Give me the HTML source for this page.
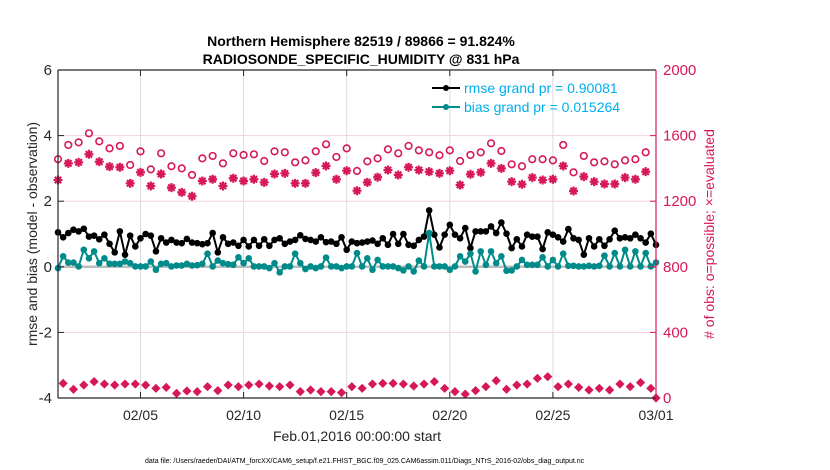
<!DOCTYPE html>
<html><head><meta charset="utf-8"><style>
html,body{margin:0;padding:0;background:#fff;}
svg{display:block;font-family:"Liberation Sans",sans-serif;}
</style></head><body>
<svg id="chart" width="830" height="470" viewBox="0 0 830 470" xmlns="http://www.w3.org/2000/svg">
<rect x="0" y="0" width="830" height="470" fill="#fff"/>
<text x="361" y="46" text-anchor="middle" font-size="14" font-weight="bold" fill="#000">Northern Hemisphere 82519 / 89866 = 91.824%</text>
<text x="361" y="64" text-anchor="middle" font-size="14" font-weight="bold" fill="#000">RADIOSONDE_SPECIFIC_HUMIDITY @ 831 hPa</text>
<g id="grid"></g>
<g id="marks"></g>
<g id="axes"></g>
<text transform="translate(37,234) rotate(-90)" text-anchor="middle" font-size="14" fill="#262626">rmse and bias (model - observation)</text>
<text transform="translate(714,234) rotate(-90)" text-anchor="middle" font-size="14" fill="#d6185a"># of obs: o=possible; ×=evaluated</text>
<text x="357" y="441" text-anchor="middle" font-size="14" fill="#262626">Feb.01,2016 00:00:00 start</text>
<text x="145" y="463" font-size="7" fill="#000">data file: /Users/raeder/DAI/ATM_forcXX/CAM6_setup/f.e21.FHIST_BGC.f09_025.CAM6assim.011/Diags_NTrS_2016-02/obs_diag_output.nc</text>
<g>
<line x1="432" y1="88" x2="460" y2="88" stroke="#000" stroke-width="2"/>
<circle cx="446" cy="88" r="3" fill="#000"/>
<text x="464" y="93" font-size="14" fill="#00aeef">rmse grand pr = 0.90081</text>
<line x1="432" y1="107" x2="460" y2="107" stroke="#008b8b" stroke-width="2"/>
<circle cx="446" cy="107" r="3" fill="#008b8b"/>
<text x="464" y="112" font-size="14" fill="#00aeef">bias grand pr = 0.015264</text>
</g>
</svg>
<script>
const xTickDays = [4, 9, 14, 19, 24, 29];
const xTickLabels = ["02/05", "02/10", "02/15", "02/20", "02/25", "03/01"];
const yTicks = [-4, -2, 0, 2, 4, 6];
const yRightTicks = [0, 400, 800, 1200, 1600, 2000];
const rmse = [1.05,0.90,1.03,1.13,1.08,1.16,0.92,0.95,0.84,0.98,0.70,0.44,1.08,0.37,0.95,0.62,0.87,1.00,0.95,0.47,0.87,0.74,0.82,0.74,0.72,0.85,0.74,0.72,0.69,0.72,1.03,0.44,0.90,0.70,0.74,0.64,0.82,0.62,0.82,0.64,
0.84,0.64,0.82,0.87,0.70,0.77,0.82,0.96,0.85,0.82,0.77,0.90,0.75,0.77,0.70,0.90,0.52,0.77,0.72,0.74,0.77,0.80,0.70,0.87,0.67,1.00,0.70,1.00,0.67,0.64,0.82,0.92,1.72,0.98,0.59,0.98,1.28,0.98,0.87,1.18,
0.57,1.08,1.08,1.08,1.23,1.03,1.35,1.01,0.57,0.84,0.62,0.98,0.92,0.92,0.54,1.05,0.98,0.90,0.77,1.15,0.87,0.82,0.37,0.87,0.62,0.84,0.64,0.84,1.10,0.87,0.90,0.87,0.98,0.87,0.74,1.01,0.67];
const bias = [-0.04,0.32,0.13,0.13,0.01,0.52,0.26,0.47,0.11,0.26,0.09,0.09,0.09,0.16,0.11,0.01,0.01,0.01,0.16,-0.09,0.09,0.11,0.01,0.04,0.04,0.09,0.04,0.05,0.09,0.40,0.01,0.19,0.11,0.08,0.06,0.29,0.11,0.26,0.01,0.01,
0.01,-0.04,0.11,-0.17,0.01,0.01,0.40,0.11,-0.07,0.01,-0.04,0.01,0.28,0.01,0.01,-0.04,0.01,0.01,0.42,0.01,0.26,-0.09,0.21,0.01,0.01,0.01,-0.04,-0.11,0.01,-0.14,0.19,0.01,1.03,0.01,0.01,0.01,-0.09,0.01,0.32,0.16,
0.40,-0.14,0.47,0.06,0.47,0.11,0.32,-0.12,-0.11,0.01,0.21,0.06,0.06,0.06,0.29,0.01,0.21,0.01,0.40,0.03,0.03,0.01,0.01,0.03,0.01,0.03,0.34,0.01,0.42,0.01,0.52,0.01,0.47,0.01,0.42,0.01,0.13];
const possible = [1456,1543,1559,1614,1565,1522,1537,1421,1504,1394,1492,1413,1400,1360,1461,1476,1431,1492,1482,1486,
1445,1504,1498,1437,1449,1504,1547,1470,1522,1384,1443,1461,1516,1492,1537,1510,1498,1480,1510,1445,
1482,1498,1553,1506,1425,1413,1456,1456,1449,1543,1376,1476,1437,1443,1425,1449,1456,1498];
const evaluated = [1329,1431,1437,1486,1441,1411,1407,1309,1376,1293,1366,1283,1254,1230,1323,1334,1293,1340,1323,1334,
1315,1366,1370,1309,1309,1374,1415,1334,1386,1264,1315,1346,1390,1360,1407,1390,1380,1370,1386,1299,
1364,1376,1431,1400,1319,1303,1344,1329,1334,1415,1262,1350,1319,1305,1305,1344,1334,1380];
const evaluatedLow = [89,53,79,100,85,79,85,85,79,59,65,28,43,39,69,45,79,69,79,85,73,69,79,39,49,39,39,33,69,59,
85,89,89,85,73,85,100,59,39,24,45,69,106,53,79,85,120,130,69,85,65,49,59,49,85,69,94,59,0];

const NS = "http://www.w3.org/2000/svg";
const L = 58, R = 656, T = 70, B = 398;
const DAYS = 29;
const xs = d => L + d / DAYS * (R - L);
const yl = v => B - (v + 4) / 10 * (B - T);
const yr = v => B - v / 2000 * (B - T);
function mk(tag, attrs, parent) {
  const e = document.createElementNS(NS, tag);
  for (const k in attrs) e.setAttribute(k, attrs[k]);
  parent.appendChild(e);
  return e;
}
const grid = document.getElementById('grid');
const marks = document.getElementById('marks');
const axes = document.getElementById('axes');

xTickDays.forEach((d, i) => {
  const g = mk('line', {x1: xs(d), x2: xs(d), y1: T, y2: B, stroke: '#dcdcdc', 'stroke-width': 1}, grid);
  
  
  const tb = mk('line', {x1: xs(d), x2: xs(d), y1: B, y2: B - 6, stroke: '#262626', 'stroke-width': 1}, axes);
  
  
  const tt = mk('line', {x1: xs(d), x2: xs(d), y1: T, y2: T + 6, stroke: '#262626', 'stroke-width': 1}, axes);
  
  
  const t = mk('text', {x: xs(d), y: B + 22, 'text-anchor': 'middle', 'font-size': 14, fill: '#262626'}, axes);
  t.textContent = xTickLabels[i];
  
  
});
yRightTicks.forEach(v => {
  if (v > 0 && v < 2000 && v !== 800) {
    const g = mk('line', {x1: L, x2: R, y1: yr(v), y2: yr(v), stroke: '#f2d3dd', 'stroke-width': 1}, grid);
    
    
  }
  const tk = mk('line', {x1: R, x2: R - 6, y1: yr(v), y2: yr(v), stroke: '#d6185a', 'stroke-width': 1}, axes);
  
  
  const t = mk('text', {x: R + 7, y: yr(v) + 5, 'font-size': 15, fill: '#d6185a'}, axes);
  t.textContent = v;
  
  
});
yTicks.forEach(v => {
  const tk = mk('line', {x1: L, x2: L + 6, y1: yl(v), y2: yl(v), stroke: '#262626', 'stroke-width': 1}, axes);
  
  
  const t = mk('text', {x: L - 6, y: yl(v) + 5, 'text-anchor': 'end', 'font-size': 15, fill: '#262626'}, axes);
  t.textContent = v;
  
  
});
const zl = mk('line', {x1: L, x2: R, y1: yl(0), y2: yl(0), stroke: '#bdbdbd', 'stroke-width': 2.5}, grid);



const la = mk('line', {x1: L, x2: L, y1: T, y2: B, stroke: '#262626', 'stroke-width': 1.2}, axes);


const ba = mk('line', {x1: L, x2: R, y1: B, y2: B, stroke: '#262626', 'stroke-width': 1.2}, axes);


const ta = mk('line', {x1: L, x2: R, y1: T, y2: T, stroke: '#262626', 'stroke-width': 1.2}, axes);


const ra = mk('line', {x1: R, x2: R, y1: T, y2: B, stroke: '#d6185a', 'stroke-width': 1.2}, axes);



possible.forEach((v, i) => {
  const c = mk('circle', {cx: xs(i * 0.5), cy: yr(v), r: 3.3, fill: 'none', stroke: '#d6185a', 'stroke-width': 1.6}, marks);
  
  
});
evaluated.forEach((v, i) => {
  const x = xs(i * 0.5), y = yr(v), s = 4.5, d = 3.2;
  const p = mk('path', {d: `M${x-s},${y}H${x+s}M${x},${y-s}V${y+s}M${x-d},${y-d}L${x+d},${y+d}M${x-d},${y+d}L${x+d},${y-d}`, stroke: '#d6185a', 'stroke-width': 2.2, fill: 'none'}, marks);
  
  
});
evaluatedLow.forEach((v, i) => {
  const x = xs(Math.min(0.25 + i * 0.5, DAYS)), y = yr(v), s = 4.6;
  const p = mk('path', {d: `M${x},${y-s}L${x+s},${y}L${x},${y+s}L${x-s},${y}Z`, fill: '#d6185a', stroke: 'none'}, marks);
  
  
});
function series(vals, color, name) {
  const pts = vals.map((v, i) => `${xs(i * 0.25).toFixed(2)},${yl(v).toFixed(2)}`).join(' ');
  const pl = mk('polyline', {points: pts, fill: 'none', stroke: color, 'stroke-width': 2, 'stroke-linejoin': 'round'}, marks);
  
  
  vals.forEach((v, i) => {
    const c = mk('circle', {cx: xs(i * 0.25), cy: yl(v), r: 3.3, fill: color}, marks);
    
    
  });
}
series(rmse, '#000000', 'rmse');
series(bias, '#008b8b', 'bias');
</script>
</body></html>
